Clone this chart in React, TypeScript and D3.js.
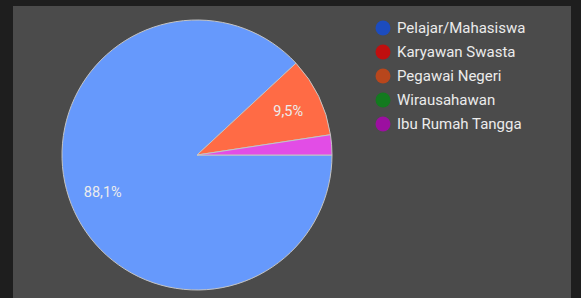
import React, { useEffect, useRef } from 'react';
import * as d3 from 'd3';

const categories = ['Pelajar/Mahasiswa', 'Karyawan Swasta', 'Pegawai Negeri', 'Wirausahawan', 'Ibu Rumah Tangga'];
const values = [88.1, 0, 9.5, 0, 2.4];
const sliceLabels = ['88,1%', '', '9,5%', '', ''];
const sliceColors = ['#6699fc', '#ff4f4f', '#ff6b45', '#3cbf4a', '#e24de6'];
const legendColors = ['#1c4cbf', '#c00f0f', '#b8461c', '#137a1f', '#9c0fa0'];

const App = () => {
  const svgRef = useRef<SVGSVGElement>(null);
  const width = 581;
  const height = 298;
  const cx = 197;
  const cy = 155;
  const radius = 135;

  useEffect(() => {
    const svg = d3.select(svgRef.current);
    svg.selectAll('*').remove();

    svg.append('rect').attr('width', width).attr('height', height).attr('fill', '#1e1e1e');
    svg.append('rect')
      .attr('x', 13).attr('y', 6)
      .attr('width', 558).attr('height', height - 6)
      .attr('fill', '#4b4b4b');

    const data = categories.map((c, i) => ({ name: c, value: values[i], label: sliceLabels[i], color: sliceColors[i] }));

    const pie = d3.pie<any>()
      .value(d => d.value)
      .sort(null)
      .startAngle(Math.PI / 2)
      .endAngle(Math.PI / 2 + Math.PI * 2);
    const arc = d3.arc<any>().innerRadius(0).outerRadius(radius);
    const labelArc = d3.arc<any>().innerRadius(radius * 0.75).outerRadius(radius * 0.75);

    const g = svg.append('g').attr('transform', `translate(${cx},${cy})`);
    const arcs = pie(data).filter(d => d.data.value > 0);

    g.selectAll('path')
      .data(arcs)
      .join('path')
      .attr('d', arc)
      .attr('fill', d => d.data.color)
      .attr('stroke', '#c4c4c4')
      .attr('stroke-width', 1);

    g.selectAll('text')
      .data(arcs.filter(d => d.data.label))
      .join('text')
      .attr('transform', d => `translate(${labelArc.centroid(d)})`)
      .attr('text-anchor', 'middle')
      .attr('dy', '0.36em')
      .attr('fill', '#ececec')
      .attr('font-family', 'Roboto, sans-serif')
      .attr('font-size', 14.5)
      .text(d => d.data.label);

    const legend = svg.append('g').attr('transform', 'translate(383,28)');
    const rows = legend.selectAll('g')
      .data(categories)
      .join('g')
      .attr('transform', (d, i) => `translate(0,${i * 24})`);
    rows.append('circle')
      .attr('r', 7.5)
      .attr('fill', (d, i) => legendColors[i]);
    rows.append('text')
      .attr('x', 14)
      .attr('dy', '0.36em')
      .attr('fill', '#ececec')
      .attr('font-family', 'Roboto, sans-serif')
      .attr('font-size', 15)
      .text(d => d);
  }, []);

  return <svg ref={svgRef} width={width} height={height} style={{ position: 'fixed', left: 0, top: 0 }}></svg>;
};

export default App;
